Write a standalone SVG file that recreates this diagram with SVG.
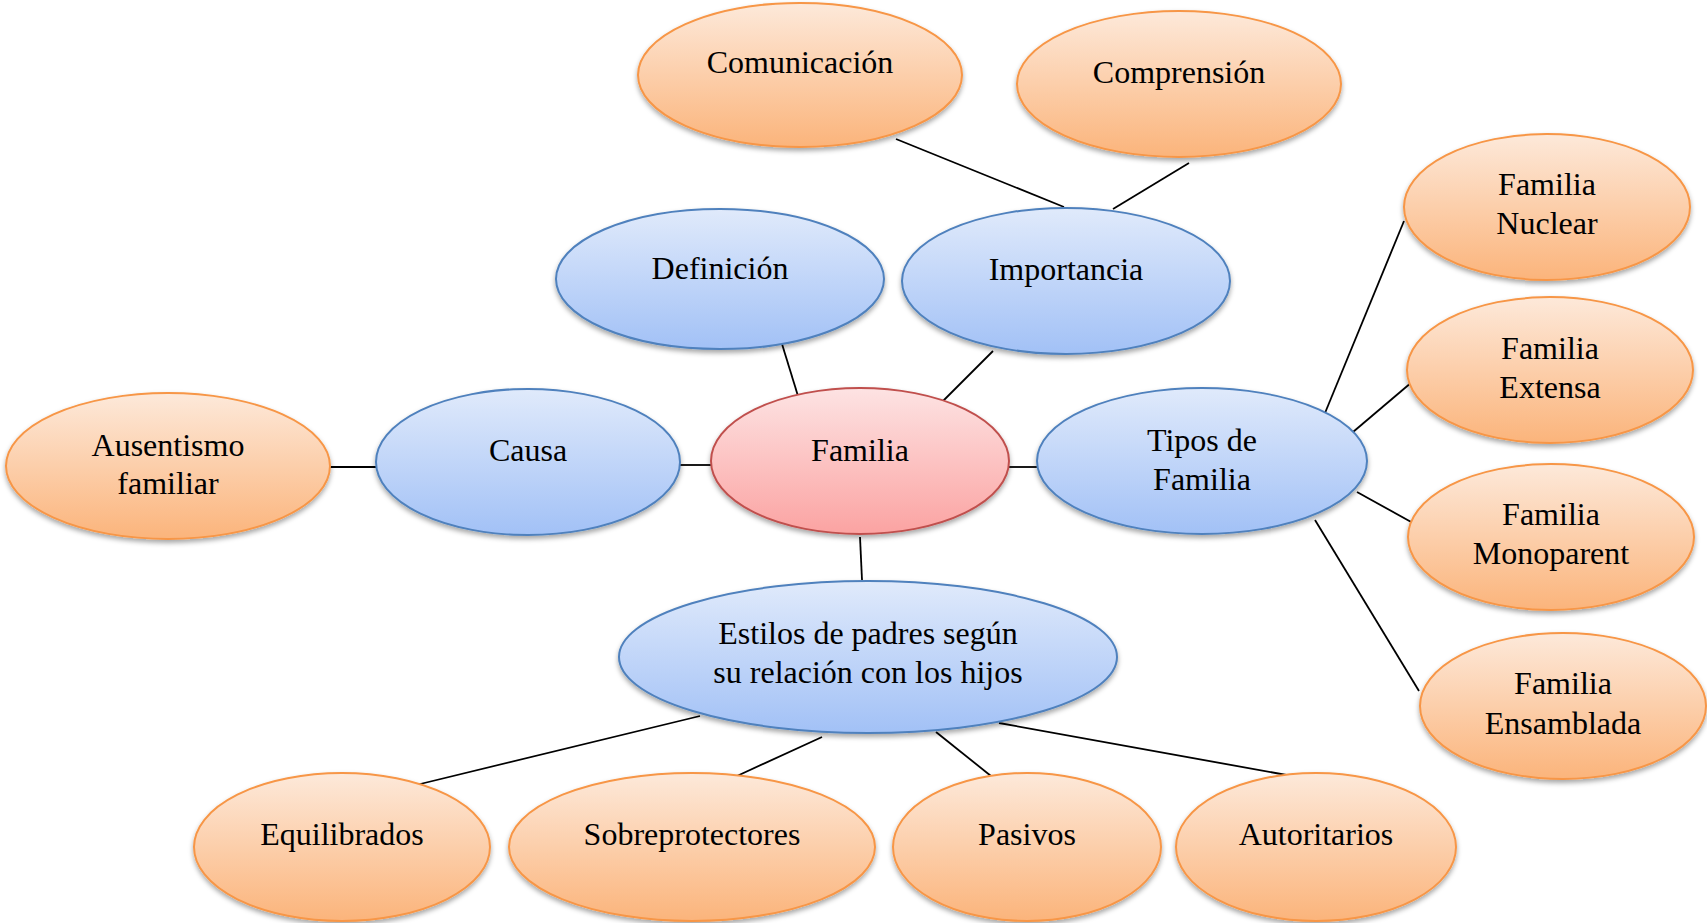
<svg xmlns="http://www.w3.org/2000/svg" width="1707" height="923" viewBox="0 0 1707 923">
<defs>
<linearGradient id="gO" x1="0" y1="0" x2="0" y2="1"><stop offset="0" stop-color="#fde9da"/><stop offset="1" stop-color="#fbb47b"/></linearGradient>
<linearGradient id="gB" x1="0" y1="0" x2="0" y2="1"><stop offset="0" stop-color="#e0eafb"/><stop offset="1" stop-color="#a2c1f6"/></linearGradient>
<linearGradient id="gR" x1="0" y1="0" x2="0" y2="1"><stop offset="0" stop-color="#fde3e3"/><stop offset="1" stop-color="#fba3a2"/></linearGradient>
<filter id="sh" x="-10%" y="-10%" width="120%" height="130%"><feDropShadow dx="0" dy="3" stdDeviation="2.5" flood-color="#000" flood-opacity="0.35"/></filter>
</defs>
<style>
.o{fill:url(#gO);stroke:#f79646;stroke-width:2;filter:url(#sh)}
.b{fill:url(#gB);stroke:#4f81bd;stroke-width:2;filter:url(#sh)}
.r{fill:url(#gR);stroke:#c0504d;stroke-width:2;filter:url(#sh)}
text{font-family:"Liberation Serif","Times New Roman",serif;font-size:32px;fill:#000;text-anchor:middle}
.c line{stroke:#000;stroke-width:1.8}
</style>
<rect width="1707" height="923" fill="#fff"/>
<g class="c" id="connectors">
<line x1="896" y1="139" x2="1064" y2="207"/>
<line x1="1189" y1="163" x2="1113" y2="209"/>
<line x1="782" y1="344" x2="798" y2="396"/>
<line x1="993" y1="351" x2="942" y2="402"/>
<line x1="680" y1="465" x2="712" y2="465"/>
<line x1="330" y1="467" x2="376" y2="467"/>
<line x1="1008" y1="467" x2="1038" y2="467"/>
<line x1="860" y1="537" x2="862" y2="580"/>
<line x1="1325" y1="413" x2="1404" y2="221"/>
<line x1="1353" y1="432" x2="1412" y2="382"/>
<line x1="1357" y1="492" x2="1413" y2="523"/>
<line x1="1315" y1="520" x2="1419" y2="691"/>
<line x1="700" y1="716" x2="412" y2="786"/>
<line x1="822" y1="737" x2="737" y2="776"/>
<line x1="936" y1="732" x2="996" y2="780"/>
<line x1="999" y1="723" x2="1292" y2="776"/>
</g>
<g id="comunicacion"><ellipse class="o" cx="800" cy="75" rx="162" ry="72"/><text x="800" y="73">Comunicación</text></g>
<g id="comprension"><ellipse class="o" cx="1179" cy="84" rx="162" ry="73"/><text x="1179" y="83">Comprensión</text></g>
<g id="definicion"><ellipse class="b" cx="720" cy="279" rx="164" ry="70"/><text x="720" y="279">Definición</text></g>
<g id="importancia"><ellipse class="b" cx="1066" cy="281" rx="164" ry="73"/><text x="1066" y="280">Importancia</text></g>
<g id="familia"><ellipse class="r" cx="860" cy="461" rx="149" ry="73"/><text x="860" y="461">Familia</text></g>
<g id="causa"><ellipse class="b" cx="528" cy="462" rx="152" ry="73"/><text x="528" y="461">Causa</text></g>
<g id="ausentismo"><ellipse class="o" cx="168" cy="466" rx="162" ry="73"/><text x="168" y="456">Ausentismo</text><text x="168" y="494">familiar</text></g>
<g id="tipos"><ellipse class="b" cx="1202" cy="461" rx="165" ry="73"/><text x="1202" y="451">Tipos de</text><text x="1202" y="490">Familia</text></g>
<g id="estilos"><ellipse class="b" cx="868" cy="657" rx="249" ry="76"/><text x="868" y="644">Estilos de padres según</text><text x="868" y="683">su relación con los hijos</text></g>
<g id="nuclear"><ellipse class="o" cx="1547" cy="207" rx="143" ry="73"/><text x="1547" y="195">Familia</text><text x="1547" y="234">Nuclear</text></g>
<g id="extensa"><ellipse class="o" cx="1550" cy="370" rx="143" ry="73"/><text x="1550" y="359">Familia</text><text x="1550" y="398">Extensa</text></g>
<g id="monoparent"><ellipse class="o" cx="1551" cy="537" rx="143" ry="73"/><text x="1551" y="525">Familia</text><text x="1551" y="564">Monoparent</text></g>
<g id="ensamblada"><ellipse class="o" cx="1563" cy="706" rx="143" ry="73"/><text x="1563" y="694">Familia</text><text x="1563" y="734">Ensamblada</text></g>
<g id="equilibrados"><ellipse class="o" cx="342" cy="847" rx="148" ry="74"/><text x="342" y="845">Equilibrados</text></g>
<g id="sobreprotectores"><ellipse class="o" cx="692" cy="847" rx="183" ry="74"/><text x="692" y="845">Sobreprotectores</text></g>
<g id="pasivos"><ellipse class="o" cx="1027" cy="847" rx="134" ry="74"/><text x="1027" y="845">Pasivos</text></g>
<g id="autoritarios"><ellipse class="o" cx="1316" cy="847" rx="140" ry="74"/><text x="1316" y="845">Autoritarios</text></g>
</svg>
